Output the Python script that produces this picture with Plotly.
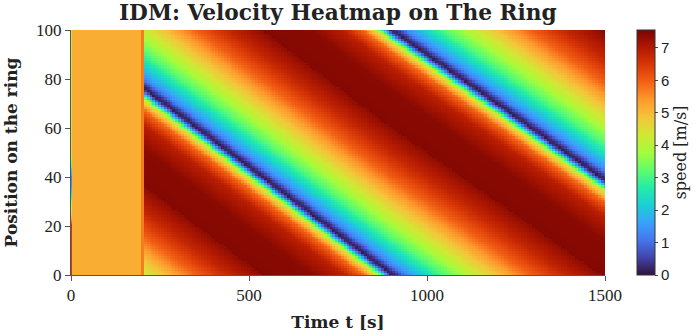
import numpy as np
import plotly.graph_objects as go

# ring / time range
ring_length = 100
t_end = 1500

# speed before the jam forms (step changes)
pre_t = [0, 193, 201]
pre_v = [5.15, 5.7, 4.6]

# first column (initial perturbation at t=0)
init_pos = [0, 20, 25, 30, 36, 40, 44, 50, 70, 100]
init_v = [6.5, 6.5, 4.5, 3.5, 1.5, 1.2, 3.0, 4.5, 4.5, 4.5]

# jam centre trajectory (unwrapped position)
jam_t = [205, 360, 600, 900, 1200, 1500]
jam_pos = [76.0, 59.2, 33.0, 0.0, -30.5, -61.5]

# speed vs distance ahead of the jam centre
prof_d = [-40, -25, -15, -9, -5, -3, -1.5, 0, 1.5, 4, 8, 14, 22, 30, 40, 50, 60]
prof_v = [7.45, 7.4, 6.9, 5.9, 4.4, 2.8, 1.0, 0.1, 0.4, 1.3, 2.0, 3.0, 4.0, 4.9, 6.0, 6.8, 7.35]

t = np.linspace(0, t_end, 188)
pos = np.arange(0, ring_length + 1, 1.0)

z = np.zeros((len(pos), len(t)))
for j, tj in enumerate(t):
    if tj < jam_t[0]:
        k = np.searchsorted(pre_t, tj, side="right") - 1
        z[:, j] = pre_v[k]
        if j == 0:
            z[:, j] = np.interp(pos, init_pos, init_v)
    else:
        c = np.interp(tj, jam_t, jam_pos)
        d = (pos - c - prof_d[0]) % ring_length + prof_d[0]
        z[:, j] = np.interp(d, prof_d, prof_v)

serif = "DejaVu Serif"
fig = go.Figure()
fig.add_trace(go.Heatmap(
    x=t, y=pos, z=z,
    colorscale="Turbo", zmin=0, zmax=7.55,
    colorbar=dict(
        x=1.06, xanchor="left", xpad=0, y=0.5, yanchor="middle", ypad=0,
        len=1, thickness=18, outlinecolor="#333", outlinewidth=1,
        tickvals=list(range(8)), ticks="outside", ticklen=3,
        tickfont=dict(family="Liberation Sans", size=15, color="#222"),
        title=dict(text="speed [m/s]", side="right",
                   font=dict(family=serif, size=16, color="#222")),
    ),
))
fig.update_layout(
    width=698, height=336,
    margin=dict(l=71, r=93, t=30, b=61, autoexpand=False),
    paper_bgcolor="white", plot_bgcolor="white",
    title=dict(text="<b>IDM: Velocity Heatmap on The Ring</b>", x=0.484, xanchor="center",
               y=0.962, yanchor="middle", font=dict(family=serif, size=21.7, color="#222")),
    font=dict(family=serif, color="#222"),
)
fig.update_xaxes(
    range=[0, t_end], tickvals=[0, 500, 1000, 1500], ticks="outside", ticklen=5,
    tickcolor="#555", showline=True, linecolor="#555", showgrid=False, zeroline=False,
    automargin=False,
    tickfont=dict(family="Liberation Serif", size=17),
    title=dict(text="<b>Time t [s]</b>", font=dict(size=17), standoff=11),
)
fig.update_yaxes(
    range=[0, ring_length], tickvals=[0, 20, 40, 60, 80, 100], ticks="outside", ticklen=5,
    tickcolor="#555", showline=True, linecolor="#555", showgrid=False, zeroline=False,
    automargin=False,
    tickfont=dict(family="Liberation Serif", size=17),
    title=dict(text="<b>Position on the ring</b>", font=dict(size=17), standoff=14),
)
fig.write_html("out.html", config={"displayModeBar": False},
               post_script="document.body.style.margin='0px';")
